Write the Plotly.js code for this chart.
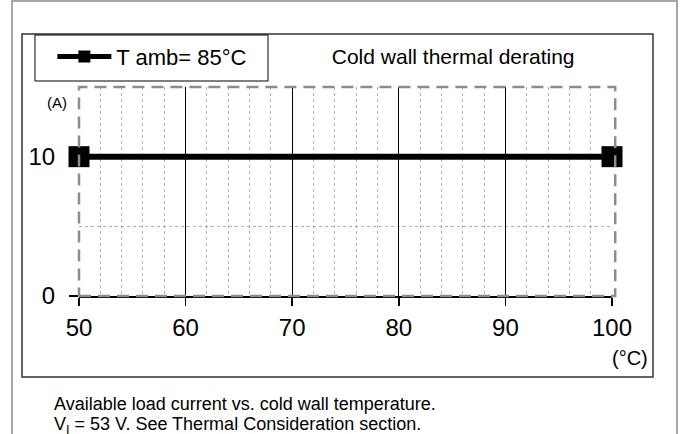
<!DOCTYPE html>
<html>
<head>
<meta charset="utf-8">
<script src="https://cdn.plot.ly/plotly-3.0.1.min.js"></script>
<style>html,body{margin:0;padding:0;background:#fff;}#chart{width:683px;height:434px;}</style>
</head>
<body>
<div id="chart"></div>
<script>
// Data
const temperature = [50, 100];          // cold wall temperature (°C)
const current85 = [10, 10];             // available load current (A) at T amb = 85°C
const seriesName = 'T amb= 85°C';
const xTicks = [50, 60, 70, 80, 90, 100];
const yTicks = [0, 10];
const chartTitle = 'Cold wall thermal derating';
const yUnit = '(A)';
const xUnit = '(°C)';
const captionLines = ['Available load current vs. cold wall temperature.',
                      'V<sub>I</sub> = 53 V. See Thermal Consideration section.'];

const FONT = 'Liberation Sans, Arial, Helvetica, sans-serif';

const traces = [{
  x: temperature, y: current85, name: seriesName,
  type: 'scatter', mode: 'lines+markers',
  line: {color: '#000', width: 6},
  marker: {symbol: 'square', size: 21, color: '#000'},
  cliponaxis: false
}];

const layout = {
  width: 683, height: 434,
  margin: {l: 79, r: 71, t: 87, b: 138},
  paper_bgcolor: '#fff', plot_bgcolor: '#fff',
  font: {family: FONT, color: '#000'},
  title: {text: chartTitle, font: {size: 21, family: FONT, color: '#000'},
          xref: 'paper', x: 0.702, xanchor: 'center', yref: 'container', y: 0.869, yanchor: 'middle'},
  showlegend: true,
  legend: {x: -0.05, y: 1.245, xanchor: 'left', yanchor: 'top', bgcolor: 'rgba(0,0,0,0)',
           borderwidth: 0, font: {size: 22, family: FONT}, itemsizing: 'constant', itemwidth: 54},
  xaxis: {range: [50, 100], tickvals: xTicks, ticks: 'outside', ticklen: 8, tickwidth: 1.5, tickcolor: '#000',
          tickfont: {size: 24, family: FONT}, showgrid: true, gridcolor: '#000', gridwidth: 1,
          ticklabelstandoff: 2,
          showline: true, linecolor: '#000', linewidth: 1.5, zeroline: false, fixedrange: true,
          minor: {dtick: 2, showgrid: true, gridcolor: '#b0b0b0', griddash: 'dot', gridwidth: 1, ticks: ''}},
  yaxis: {range: [0, 15], tickvals: yTicks, ticks: 'outside', ticklen: 9, tickwidth: 1.5, tickcolor: '#000',
          tickfont: {size: 24, family: FONT}, showgrid: false, showline: false, zeroline: false, fixedrange: true,
          ticklabelstandoff: 9,
          minor: {dtick: 5, showgrid: true, gridcolor: '#b0b0b0', griddash: 'dot', gridwidth: 1, ticks: ''}},
  shapes: [
    // outer page frame
    {type: 'rect', xref: 'paper', yref: 'paper', x0: -0.1257, x1: 1.122, y0: -0.75, y1: 1.4115,
     line: {color: '#8a8a8a', width: 1.5}, layer: 'below'},
    // chart box
    {type: 'rect', xref: 'paper', yref: 'paper', x0: -0.1069, x1: 1.0769, y0: -0.3876, y1: 1.2536,
     line: {color: '#333', width: 1.5}, layer: 'below'},
    // legend box
    {type: 'rect', xref: 'paper', yref: 'paper', x0: -0.0826, x1: 0.3546, y0: 1.0287, y1: 1.2488,
     line: {color: '#000', width: 1}, layer: 'below'},
    // dashed plot-area border
    {type: 'rect', xref: 'paper', yref: 'paper', x0: 0, x1: 1.006, y0: 0, y1: 1,
     line: {color: '#8c8c8c', width: 2.5, dash: '12px,7px'}, layer: 'above'}
  ],
  annotations: [
    {text: yUnit, xref: 'paper', yref: 'paper', x: -0.041, y: 0.928, xanchor: 'center', yanchor: 'middle',
     showarrow: false, font: {size: 15, family: FONT}},
    {text: xUnit, xref: 'paper', yref: 'paper', x: 1.034, y: -0.297, xanchor: 'center', yanchor: 'middle',
     showarrow: false, font: {size: 20, family: FONT}},
    {text: captionLines[0], xref: 'paper', yref: 'paper', x: -0.0507, y: -0.519, xanchor: 'left', yanchor: 'middle',
     showarrow: false, font: {size: 18, family: FONT}},
    {text: captionLines[1], xref: 'paper', yref: 'paper', x: -0.0507, y: -0.62, xanchor: 'left', yanchor: 'middle',
     showarrow: false, font: {size: 18, family: FONT}}
  ]
};

Plotly.newPlot('chart', traces, layout, {displayModeBar: false, staticPlot: true});
</script>
</body>
</html>
